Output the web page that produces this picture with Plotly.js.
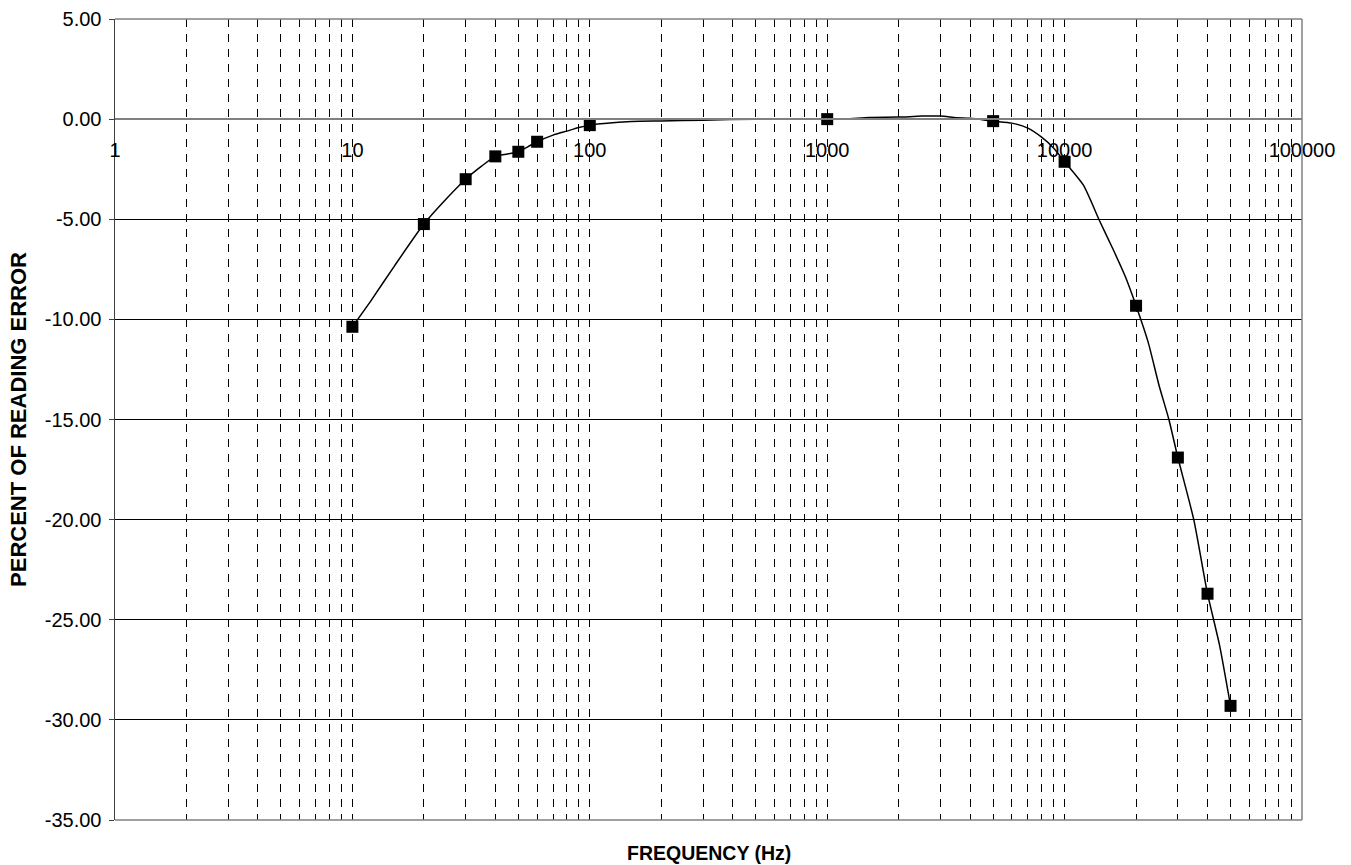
<!DOCTYPE html>
<html>
<head>
<meta charset="utf-8">
<script src="https://cdn.plot.ly/plotly-3.0.1.min.js"></script>
<style>html,body{margin:0;padding:0;background:#fff;}</style>
</head>
<body>
<div id="chart" style="width:1351px;height:865px;"></div>
<script>
// Measured points (square markers)
const markerFreq = [10, 20, 30, 40, 50, 60, 100, 1000, 5000, 10000, 20000, 30000, 40000, 50000];
const markerErr  = [-10.37, -5.24, -3.0, -1.86, -1.63, -1.13, -0.3, 0.0, -0.1, -2.13, -9.32, -16.9, -23.7, -29.3];

// Smoothed curve
const curveFreq = [10, 12, 15, 20, 25, 30, 35, 40, 45, 50, 55, 60, 70, 80, 90, 100, 150, 200, 300, 500, 700, 1000, 1200, 1500, 2000, 2500, 3000, 3500, 4000, 5000, 6000, 7000, 8000, 9000, 10000, 12000, 14000, 16000, 18000, 20000, 22500, 25000, 27500, 30000, 35000, 40000, 45000, 50000];
const curveErr  = [-10.37, -9.05, -7.35, -5.24, -3.95, -3.0, -2.35, -1.86, -1.74, -1.63, -1.37, -1.13, -0.8, -0.6, -0.42, -0.3, -0.12, -0.09, -0.05, 0.0, 0.0, 0.0, 0.0, 0.08, 0.1, 0.15, 0.15, 0.07, 0.04, -0.1, -0.2, -0.45, -0.9, -1.45, -2.13, -3.3, -5.05, -6.5, -7.85, -9.32, -11.15, -13.3, -15.0, -16.9, -20.0, -23.7, -26.3, -29.3];

// Axis tick labels
const yTickVals = [5, 0, -5, -10, -15, -20, -25, -30, -35];
const yTickText = ["5.00", "0.00", "-5.00", "-10.00", "-15.00", "-20.00", "-25.00", "-30.00", "-35.00"];
const xTickVals = [1, 10, 100, 1000, 10000, 100000];
const xTickText = ["1", "10", "100", "1000", "10000", "100000"];

const FONT = 'Liberation Sans, Arial, sans-serif';
const DASH = '8px,7px';

const traces = [
  {
    x: curveFreq, y: curveErr, type: 'scatter', mode: 'lines',
    line: {color: '#000', width: 1.5, shape: 'spline', smoothing: 0.6},
    hoverinfo: 'skip'
  },
  {
    x: markerFreq, y: markerErr, type: 'scatter', mode: 'markers',
    marker: {symbol: 'square', size: 12, color: '#000', line: {width: 0}}
  }
];

const layout = {
  width: 1351, height: 865,
  margin: {l: 115, r: 49, t: 19, b: 45},
  paper_bgcolor: '#fff', plot_bgcolor: '#fff',
  showlegend: false,
  font: {family: FONT, size: 20, color: '#000'},
  xaxis: {
    type: 'log', range: [0, 5],
    anchor: 'free', position: 0.875,
    tickvals: xTickVals, ticktext: xTickText,
    tickfont: {family: FONT, size: 20, color: '#000'},
    ticks: '', ticklabelstandoff: 13,
    showgrid: true, gridcolor: '#000', gridwidth: 1, griddash: DASH,
    minor: {dtick: 'D1', showgrid: true, gridcolor: '#000', gridwidth: 1, griddash: DASH, ticks: ''},
    showline: true, linecolor: '#808080', linewidth: 2,
    zeroline: false, fixedrange: true
  },
  yaxis: {
    range: [-35, 5],
    tickvals: yTickVals, ticktext: yTickText,
    tickfont: {family: FONT, size: 20, color: '#000'},
    ticks: 'outside', ticklen: 5, tickcolor: '#404040', tickwidth: 1,
    ticklabelstandoff: 3,
    showgrid: true, gridcolor: '#000', gridwidth: 1,
    showline: true, linecolor: '#404040', linewidth: 1.5,
    zeroline: false, fixedrange: true,
    title: {text: 'PERCENT OF READING ERROR', font: {family: FONT, size: 22, weight: 'bold', color: '#000'}, standoff: 12}
  },
  annotations: [
    {text: 'FREQUENCY (Hz)', xref: 'paper', yref: 'paper', x: 0.5, y: -0.041,
     xanchor: 'center', yanchor: 'middle', showarrow: false,
     font: {family: FONT, size: 19.5, weight: 'bold', color: '#000'}}
  ],
  shapes: [
    {type: 'line', xref: 'paper', yref: 'paper', x0: 0, x1: 1, y0: 1, y1: 1, line: {color: '#808080', width: 1.5}},
    {type: 'line', xref: 'paper', yref: 'paper', x0: 1, x1: 1, y0: 0, y1: 1, line: {color: '#808080', width: 1.5}},
    {type: 'line', xref: 'paper', yref: 'paper', x0: 0, x1: 1, y0: 0, y1: 0, line: {color: '#808080', width: 1.5}}
  ]
};

Plotly.newPlot('chart', traces, layout, {displayModeBar: false, staticPlot: true});
</script>
</body>
</html>
